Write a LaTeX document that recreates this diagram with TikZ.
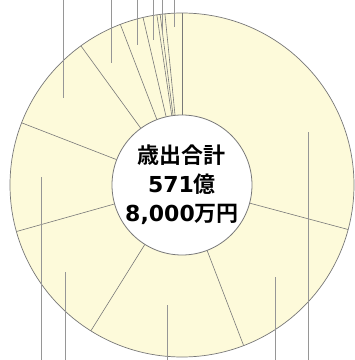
\documentclass[tikz,border=0pt]{standalone}
\usepackage{fontspec}
\usetikzlibrary{calc}
\newfontfamily\jp{Noto Sans CJK JP}[BoldFont={Noto Sans CJK JP Bold}]
\newfontfamily\dv{DejaVu Sans}
\definecolor{ringfill}{RGB}{253,250,218}
\definecolor{ringline}{RGB}{120,120,120}
\definecolor{leadline}{RGB}{150,150,150}
\begin{document}
\begin{tikzpicture}[x=1pt,y=1pt,
  ring/.style={fill=ringfill,draw=ringline,line width=0.7pt},
  hub/.style={fill=white,draw=ringline,line width=0.8pt},
  divider/.style={draw=ringline,line width=0.6pt},
  leader/.style={draw=leadline,line width=0.6pt},
  total/.style={font=\jp\bfseries\fontsize{22}{29}\selectfont,align=center,text=black}]
\useasboundingbox (0,0) rectangle (355,360);
\coordinate (c) at (182,175);
\fill[white] (0,0) rectangle (355,360);
\draw[ring] (c) circle[radius=172];
\foreach \a in {90,95.7,97.3,98.4,103.1,111,126,158.8,195.7,238,291,345}{
  \draw[divider] ($(c)+(\a:70)$) -- ($(c)+(\a:172)$);
}
\draw[hub] (c) circle[radius=70];
\node[total] (sum) at (c) {歳出合計\\{\dv 571}億\\{\dv 8,000}万円};
% top leaders
\foreach \x/\e in {63/98,111/63,137/45,153/40,162/33,174/27}{
  \draw[leader] (\x,360) -- (\x,360-\e);
}
% bottom leaders
\foreach \x/\s in {41/177,65/272,167/305,275/277,308/132}{
  \draw[leader] (\x,360-\s) -- (\x,0);
}
\end{tikzpicture}
\end{document}
